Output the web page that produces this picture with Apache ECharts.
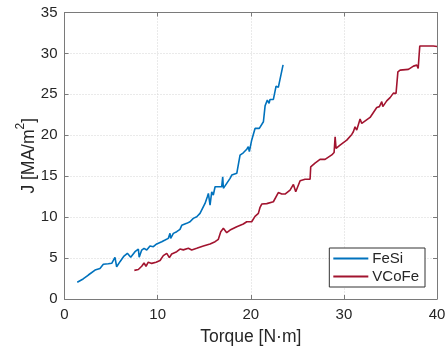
<!DOCTYPE html>
<html>
<head>
<meta charset="utf-8">
<script src="https://cdn.jsdelivr.net/npm/echarts@6/dist/echarts.min.js"></script>
<style>
  html, body { margin: 0; padding: 0; background: #fff; }
  #chart { width: 447px; height: 348px; }
</style>
</head>
<body>
<div id="chart"></div>
<script>
// torque [N·m], current density J [MA/m^2]
const fesiPoints = [
  [1.37, 2.04], [2.0, 2.45], [2.56, 2.93], [3.28, 3.54], [3.81, 3.74], [4.17, 4.24],
  [4.7, 4.3], [5.07, 4.36], [5.24, 4.56], [5.42, 5.09], [5.6, 3.94], [5.96, 4.56],
  [6.39, 5.25], [6.75, 5.58], [7.11, 5.09], [7.57, 5.78], [7.93, 6.1], [8.02, 5.1],
  [8.29, 5.98], [8.54, 6.19], [8.83, 5.98], [9.18, 6.47], [9.54, 6.39], [9.9, 6.72],
  [10.07, 6.8], [10.44, 7.0], [10.8, 7.2], [11.15, 7.41], [11.33, 8.02], [11.4, 7.41],
  [11.69, 8.02], [12.05, 8.22], [12.4, 8.5], [12.59, 9.0], [12.76, 8.83], [13.12, 9.24],
  [13.48, 9.44], [13.83, 9.85], [14.2, 10.05], [14.55, 10.46], [14.74, 10.7], [15.09, 11.68],
  [15.34, 12.49], [15.45, 12.9], [15.63, 11.48], [15.81, 13.1], [15.98, 12.7], [16.17, 13.71],
  [16.52, 13.71], [16.88, 13.71], [16.99, 14.93], [17.06, 13.52], [17.42, 14.13], [17.78, 14.74],
  [17.96, 15.14], [18.5, 15.35], [18.67, 15.42], [18.85, 17.58], [19.2, 17.86], [19.57, 18.3],
  [19.74, 18.6], [19.85, 18.0], [20.1, 19.4], [20.46, 20.84], [20.92, 20.84], [21.36, 21.65],
  [21.54, 23.6], [21.78, 24.3], [21.97, 23.9], [22.07, 24.38], [22.43, 24.38], [22.72, 26.0],
  [22.9, 26.13], [22.96, 25.85], [23.47, 28.6]
];
const vcofePoints = [
  [7.5, 3.5], [7.93, 3.6], [8.29, 4.0], [8.54, 4.4], [8.75, 4.0], [9.0, 4.5],
  [9.37, 4.35], [9.83, 4.5], [10.26, 4.7], [10.61, 5.3], [10.98, 5.58], [11.26, 5.05],
  [11.51, 5.5], [12.05, 5.78], [12.4, 6.1], [12.76, 6.0], [13.3, 6.19], [13.66, 5.98],
  [14.2, 6.19], [14.91, 6.47], [15.63, 6.72], [16.17, 7.0], [16.52, 7.29], [16.78, 8.22],
  [17.06, 8.63], [17.42, 8.1], [17.78, 8.42], [18.5, 8.83], [19.2, 9.16], [19.57, 9.44],
  [20.1, 9.44], [20.46, 10.1], [20.82, 10.46], [21.0, 11.2], [21.18, 11.6], [21.72, 11.65],
  [22.43, 11.88], [22.96, 13.0], [23.33, 12.82], [23.68, 12.82], [24.22, 13.31], [24.58, 14.0],
  [24.83, 13.1], [25.3, 14.44], [25.83, 14.62], [26.37, 14.62], [26.44, 16.15], [26.9, 16.6],
  [27.44, 17.06], [27.98, 17.06], [28.7, 17.6], [28.95, 17.9], [29.06, 19.82], [29.16, 18.4],
  [29.59, 18.8], [30.31, 19.41], [30.85, 20.1], [31.02, 20.43], [31.2, 21.04], [31.38, 20.63],
  [31.74, 22.0], [31.92, 21.45], [32.09, 21.65], [32.81, 22.18], [33.1, 22.67], [33.53, 23.4],
  [33.81, 23.5], [34.07, 24.1], [34.18, 23.5], [34.6, 24.2], [34.96, 24.6], [35.32, 25.15],
  [35.6, 25.11], [35.8, 27.75], [36.04, 27.96], [36.93, 28.05], [37.47, 28.45], [37.83, 28.57],
  [37.98, 28.17], [38.15, 30.9], [39.26, 30.9], [39.61, 30.9], [39.8, 30.7], [40, 30.85]
];
const seriesNames = ['FeSi', 'VCoFe'];
const xRange = [0, 40, 10];
const yRange = [0, 35, 5];

const font = 'Liberation Sans, Arial, sans-serif';
const axisColor = '#7a7a7a';
const textColor = '#262626';

const chart = echarts.init(document.getElementById('chart'), null, { renderer: 'canvas' });

// 坐标轴公共配置
const baseAxis = (range) => ({
  type: 'value',
  min: range[0],
  max: range[1],
  interval: range[2],
  nameMoveOverlap: false,
  axisLine: { show: true, onZero: false, lineStyle: { color: axisColor, width: 1 } },
  axisTick: { show: true, inside: true, length: 4, lineStyle: { color: axisColor } },
  axisLabel: { color: textColor, fontFamily: font, fontSize: 15 },
  splitLine: { show: true, lineStyle: { color: '#d4d4d4', type: [1, 2], width: 1 } },
});

// 上、右边框（只有刻度）
const frameAxis = (range, position) => ({
  ...baseAxis(range),
  position,
  axisLabel: { show: false },
  splitLine: { show: false },
});

chart.setOption({
  animation: false,
  backgroundColor: '#fff',
  grid: { left: 64.5, right: 10, top: 12.5, bottom: 49, containLabel: false, outerBoundsMode: 'none' },
  legend: {
    orient: 'vertical',
    right: 22,
    bottom: 61,
    data: seriesNames,
    icon: 'rect',
    itemWidth: 35,
    itemHeight: 2,
    itemGap: 3,
    padding: [3, 6, 3, 4],
    borderColor: '#333',
    borderWidth: 1,
    backgroundColor: '#fff',
    textStyle: { color: textColor, fontFamily: font, fontSize: 15, padding: [0, 0, 0, -1] },
  },
  xAxis: [
    {
      ...baseAxis(xRange),
      position: 'bottom',
      name: 'Torque [N·m]',
      nameLocation: 'middle',
      nameGap: 29,
      nameTextStyle: { color: textColor, fontFamily: font, fontSize: 17.5 },
      axisLabel: { color: textColor, fontFamily: font, fontSize: 15, margin: 8 },
    },
    frameAxis(xRange, 'top'),
  ],
  yAxis: [
    {
      ...baseAxis(yRange),
      position: 'left',
      name: '{b|J [MA/m}{s|2}{b|]}',
      nameLocation: 'middle',
      nameGap: 26,
      nameRotate: 90,
      nameTextStyle: {
        color: textColor,
        fontFamily: font,
        rich: {
          b: { fontSize: 17.5, fontFamily: font, color: textColor, lineHeight: 24, verticalAlign: 'bottom' },
          s: { fontSize: 12, fontFamily: font, color: textColor, lineHeight: 24, verticalAlign: 'top' },
        },
      },
      axisLabel: { color: textColor, fontFamily: font, fontSize: 15, margin: 7 },
    },
    frameAxis(yRange, 'right'),
  ],
  series: [
    {
      name: seriesNames[0],
      type: 'line',
      data: fesiPoints,
      showSymbol: false,
      symbol: 'none',
      color: '#0072BD',
      lineStyle: { width: 1.6, color: '#0072BD' },
      z: 3,
    },
    {
      name: seriesNames[1],
      type: 'line',
      data: vcofePoints,
      showSymbol: false,
      symbol: 'none',
      color: '#A2142F',
      lineStyle: { width: 1.6, color: '#A2142F' },
      z: 3,
    },
  ],
});
</script>
</body>
</html>
